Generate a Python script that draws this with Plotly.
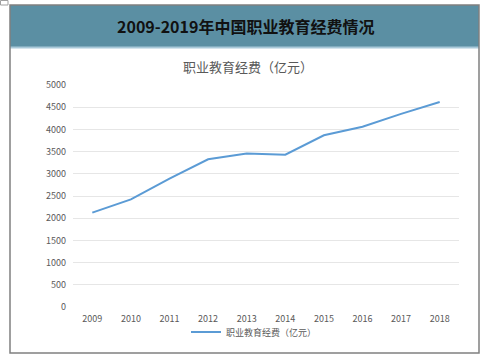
import plotly.graph_objects as go

years = ["2009", "2010", "2011", "2012", "2013", "2014", "2015", "2016", "2017", "2018"]
funding = [2125, 2425, 2890, 3326, 3455, 3430, 3867, 4061, 4350, 4617]
series_name = "职业教育经费（亿元）"
main_title = "2009-2019年中国职业教育经费情况"
y_ticks = [0, 500, 1000, 1500, 2000, 2500, 3000, 3500, 4000, 4500, 5000]

W, H = 492, 360
L, R, T, B = 73, 33, 85, 53
pw, ph = W - L - R, H - T - B

def px(x):
    return (x - L) / pw

def py(y):
    return (H - B - y) / ph

fig = go.Figure()
fig.add_trace(go.Scatter(
    x=years, y=funding, mode="lines", name=series_name,
    line=dict(color="#5b9bd5", width=2),
))

fig.update_layout(
    width=W, height=H,
    margin=dict(l=L, r=R, t=T, b=B, autoexpand=False),
    paper_bgcolor="white", plot_bgcolor="white",
    font=dict(family="Noto Sans CJK SC, sans-serif", color="#595959"),
    showlegend=True,
    legend=dict(orientation="h", x=px(254), y=py(332), xanchor="center", yanchor="middle",
                font=dict(size=9, color="#595959"), bgcolor="rgba(0,0,0,0)"),
    xaxis=dict(type="category", range=[-0.5, len(years) - 0.5], showgrid=False,
               showline=False, zeroline=False, ticks="outside", ticklen=3,
               tickcolor="rgba(0,0,0,0)", tickfont=dict(size=9, color="#595959")),
    yaxis=dict(range=[0, 5000], tickvals=y_ticks, showgrid=True, gridcolor="#e6e6e6",
               gridwidth=1, zeroline=False, showline=False, ticks="",
               tickfont=dict(size=9, color="#595959"), ticklabelstandoff=6),
    shapes=[
        dict(type="rect", xref="paper", yref="paper", x0=px(10), x1=px(479), y0=py(5), y1=py(47),
             fillcolor="#5b8fa3", line=dict(width=0), layer="below"),
        dict(type="line", xref="paper", yref="paper", x0=px(10), x1=px(479), y0=py(47.5), y1=py(47.5),
             line=dict(color="#a9c9d9", width=2)),
        dict(type="rect", xref="paper", yref="paper", x0=px(10), x1=px(479), y0=py(5), y1=py(353),
             line=dict(color="#808080", width=1.5), fillcolor="rgba(0,0,0,0)"),
        dict(type="rect", xref="paper", yref="paper", x0=px(0.5), x1=px(8), y0=py(0.5), y1=py(5),
             line=dict(color="#a0a0a0", width=1), fillcolor="rgba(0,0,0,0)"),
    ],
    annotations=[
        dict(text="<b>" + main_title + "</b>", xref="paper", yref="paper", x=px(245), y=py(26),
             xanchor="center", yanchor="middle", showarrow=False,
             font=dict(size=16, color="#111111", family="Noto Sans CJK SC, sans-serif")),
        dict(text=series_name, xref="paper", yref="paper", x=px(248), y=py(67),
             xanchor="center", yanchor="middle", showarrow=False,
             font=dict(size=13, color="#595959")),
    ],
)

fig.write_html("out.html", config={"displayModeBar": False},
               post_script="document.body.style.margin='0';")
